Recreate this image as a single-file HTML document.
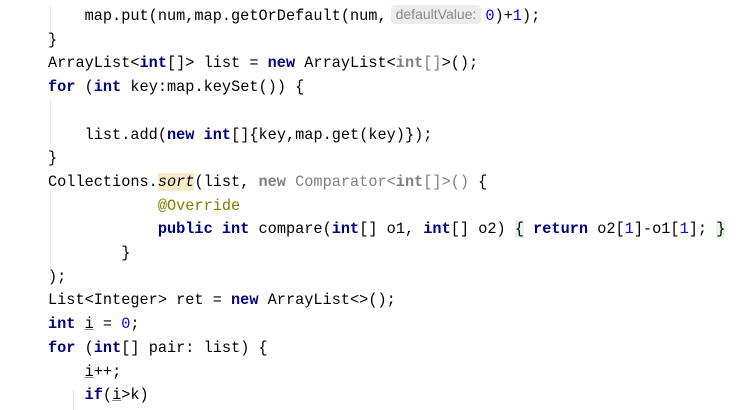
<!DOCTYPE html>
<html><head><meta charset="utf-8"><style>
html,body{margin:0;padding:0;background:#fff;width:750px;height:410px;overflow:hidden}
.code{position:absolute;left:48px;top:5px;font-family:"Liberation Mono",monospace;font-size:15.25px;line-height:23.7px;color:#000;white-space:pre}
.k{color:#000080;font-weight:bold}
.n{color:#0000ff}
.g{color:#808080}
.a{color:#808000}
.s{font-style:italic;background:#f6ebc9}
.b{background:#e8f4e8}
.u{text-decoration:underline;text-decoration-color:#888}
.hint{display:inline-block;background:#ececec;color:#8a8a8a;font-family:"Liberation Sans",sans-serif;font-size:14px;line-height:19px;border-radius:4px;padding:0 5px;margin:0 4px 0 4px;vertical-align:1px}
.guide{position:absolute;width:1px;background:#e6e6e6}
</style></head><body>
<div class="guide" style="left:50px;top:5px;height:40px"></div>
<div class="guide" style="left:50px;top:100px;height:45px"></div>
<div class="guide" style="left:50px;top:190px;height:90px"></div>
<div class="guide" style="left:73px;top:390px;height:20px"></div>
<div class="code"><span>    map.put(num,map.getOrDefault(num,<span class="hint">defaultValue:</span><span class="n">0</span>)+<span class="n">1</span>);</span>
}
ArrayList&lt;<span class="k">int</span>[]&gt; list = <span class="k">new</span> ArrayList&lt;<span class="g"><b>int</b>[]</span>&gt;();
<span class="k">for</span> (<span class="k">int</span> key:map.keySet()) {

    list.add(<span class="k">new</span> <span class="k">int</span>[]{key,map.get(key)});
}
Collections.<span class="s">sort</span>(list, <span class="g"><b>new</b> Comparator&lt;<b>int</b>[]&gt;()</span> {
            <span class="a">@Override</span>
            <span class="k">public</span> <span class="k">int</span> compare(<span class="k">int</span>[] o1, <span class="k">int</span>[] o2) <span class="b">{</span> <span class="k">return</span> o2[<span class="n">1</span>]-o1[<span class="n">1</span>]; <span class="b">}</span>
        }
);
List&lt;Integer&gt; ret = <span class="k">new</span> ArrayList&lt;&gt;();
<span class="k">int</span> <span class="u">i</span> = <span class="n">0</span>;
<span class="k">for</span> (<span class="k">int</span>[] pair: list) {
    <span class="u">i</span>++;
    <span class="k">if</span>(<span class="u">i</span>&gt;k)</div>
</body></html>
